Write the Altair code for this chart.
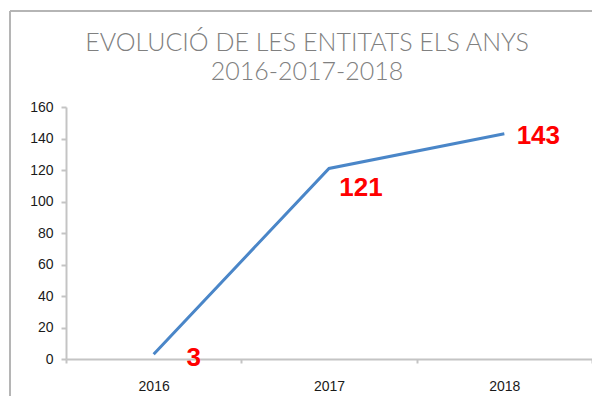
import altair as alt
import pandas as pd

years = ["2016", "2017", "2018"]
values = [3, 121, 143]
title_lines = ["EVOLUCIÓ DE LES ENTITATS ELS ANYS", "2016-2017-2018"]
y_ticks = [0, 20, 40, 60, 80, 100, 120, 140, 160]

df = pd.DataFrame({"year": years, "value": values})

AXIS_GRAY = "#c4c4c4"
LABEL_FONT = "Liberation Sans"

x_enc = alt.X(
    "year:N",
    sort=years,
    scale=alt.Scale(paddingInner=0, paddingOuter=0),
    axis=alt.Axis(
        title=None, labelAngle=0, tickBand="extent", tickSize=4,
        tickColor=AXIS_GRAY, tickWidth=2, domainColor=AXIS_GRAY, domainWidth=2,
        labelFont=LABEL_FONT, labelFontSize=14, labelColor="#1a1a1a", labelPadding=16,
    ),
)
y_enc = alt.Y(
    "value:Q",
    scale=alt.Scale(domain=[0, 160], nice=False),
    axis=alt.Axis(
        title=None, values=y_ticks, grid=False, tickSize=5, tickColor=AXIS_GRAY,
        tickWidth=2, domainColor=AXIS_GRAY, domainWidth=2,
        labelFont=LABEL_FONT, labelFontSize=14, labelColor="#1a1a1a", labelPadding=8,
    ),
)

base = alt.Chart(df)

line = base.mark_line(color="#4a86c8", strokeWidth=3).encode(x=x_enc, y=y_enc)

label_offsets = {"2016": (40, 4), "2017": (32, 20), "2018": (34, 2)}
labels = []
for yr in years:
    dx, dy = label_offsets[yr]
    labels.append(
        base.transform_filter(alt.datum.year == yr)
        .mark_text(font=LABEL_FONT, fontSize=26, fontWeight="bold", color="#ff0000",
                   align="center", baseline="middle", dx=dx, dy=dy)
        .encode(x=x_enc, y=y_enc, text="value:Q")
    )

frame_df = pd.DataFrame({"k": [0]})
frame_left = alt.Chart(frame_df).mark_rule(color="#b5b5b5", strokeWidth=2).encode(
    x=alt.value(-56), y=alt.value(-96), y2=alt.value(400)
)
frame_top = alt.Chart(frame_df).mark_rule(color="#b5b5b5", strokeWidth=2).encode(
    x=alt.value(-56), x2=alt.value(600), y=alt.value(-96)
)

chart = alt.layer(frame_left, frame_top, line, *labels).properties(
    width=526,
    height=252,
    title=alt.Title(
        title_lines, font="Lato", fontSize=25, fontWeight=300, color="#808080",
        lineHeight=29, anchor="middle", frame="group", offset=0, dy=75, dx=-22,
    ),
    autosize=alt.AutoSizeParams(type="none"),
    padding={"left": 58, "top": 99, "right": 0, "bottom": 37},
).configure_view(stroke=None)

chart.save("out.html", embed_options={"renderer": "svg", "actions": False})
